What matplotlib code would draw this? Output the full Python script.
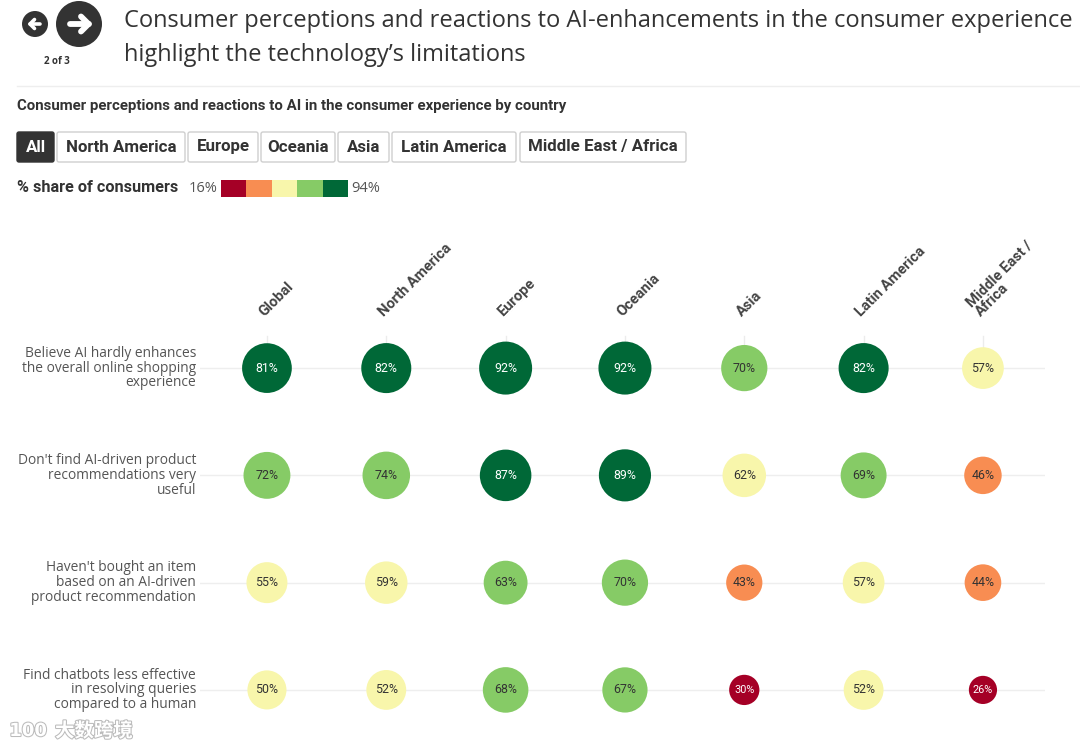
import matplotlib
matplotlib.use("Agg")
import matplotlib.pyplot as plt
from matplotlib.patches import Circle, FancyBboxPatch, Rectangle
import matplotlib.patheffects as pe
import numpy as np

# ---------------- data ----------------
regions = ["Global", "North America", "Europe", "Oceania", "Asia",
           "Latin America", "Middle East /\nAfrica"]
statements = [
    "Believe AI hardly enhances\nthe overall online shopping\nexperience",
    "Don't find AI-driven product\nrecommendations very\nuseful",
    "Haven't bought an item\nbased on an AI-driven\nproduct recommendation",
    "Find chatbots less effective\nin resolving queries\ncompared to a human",
]
global_vals = [81, 72, 55, 50]
north_america = [82, 74, 59, 52]
europe = [92, 87, 63, 68]
oceania = [92, 89, 70, 67]
asia = [70, 62, 43, 30]
latin_america = [82, 69, 57, 52]
mea = [57, 46, 44, 26]
values = [global_vals, north_america, europe, oceania, asia, latin_america, mea]

buttons = ["All", "North America", "Europe", "Oceania", "Asia",
           "Latin America", "Middle East / Africa"]
vmin, vmax = 16, 94
palette = ["#a50026", "#f88d52", "#f8f6ab", "#86cb66", "#006837"]

title = ("Consumer perceptions and reactions to AI-enhancements in the consumer experience\n"
         "highlight the technology\u2019s limitations")
subtitle = "Consumer perceptions and reactions to AI in the consumer experience by country"

W, H = 1080, 751
fig = plt.figure(figsize=(W / 100, H / 100), dpi=100)
fig.patch.set_facecolor("white")

def fx(x):
    return x / W

def fy(y):
    return 1 - y / H

renderer = fig.canvas.get_renderer()

def fit_text(x, y, s, target_w, size, **kw):
    t = fig.text(fx(x), fy(y), s, fontsize=size, **kw)
    w = t.get_window_extent(renderer).width
    t.set_fontsize(size * target_w / w)
    return t

# ---------------- header ----------------
fig.patches.append(Circle((35, H - 24), 13, transform=None, facecolor="#333333",
                          edgecolor="none"))
fig.patches.append(Circle((79, H - 24), 23, transform=None, facecolor="#333333",
                          edgecolor="none"))

def arrow(cx, cy, half, head, lw, direction):
    tip = cx + direction * half
    tail = cx - direction * half
    kw = dict(transform=None, color="white", lw=lw, solid_capstyle="round",
              solid_joinstyle="round")
    fig.lines.append(plt.Line2D([tail, tip], [H - cy, H - cy], **kw))
    fig.lines.append(plt.Line2D([tip - direction * head, tip, tip - direction * head],
                                [H - cy - head, H - cy, H - cy + head], **kw))

arrow(35, 24, 5, 4.5, 2.6, -1)
arrow(79, 24, 9.5, 7.5, 4.2, +1)

fig.text(fx(57), fy(62), "2 of 3", color="#333333", fontsize=7, fontweight="bold",
         ha="center", va="center", family="Open Sans")

tl = fig.text(fx(124), fy(21), title.split("\n")[0], fontsize=18, color="#333333",
              family="Open Sans", va="center", ha="left")
w = tl.get_window_extent(renderer).width
sz = 18 * 948 / w
tl.set_fontsize(sz)
fig.text(fx(124), fy(55), title.split("\n")[1], fontsize=sz, color="#333333",
         family="Open Sans", va="center", ha="left")

fig.lines.append(plt.Line2D([fx(17), 1], [fy(86), fy(86)], transform=fig.transFigure,
                            color="#eeeeee", lw=1))

fit_text(17, 106, subtitle, 553, 10, color="#333333", fontweight="bold",
         family="Roboto", va="center", ha="left")

# filter buttons
btn_x = [(17, 54), (57, 185), (188, 258), (261, 335), (338, 389), (392, 516), (520, 686)]
for i, (lab, (x0, x1)) in enumerate(zip(buttons, btn_x)):
    active = i == 0
    fig.patches.append(FancyBboxPatch((x0, H - 162), x1 - x0, 30, transform=None,
                                      boxstyle="round,pad=0,rounding_size=2",
                                      facecolor="#333333" if active else "white",
                                      edgecolor="#333333" if active else "#cfcfcf", lw=1))
    fig.text(fx((x0 + x1) / 2), fy(147), lab, fontsize=12.2, fontweight="bold",
             family="Roboto", color="white" if active else "#333333",
             ha="center", va="center")

# legend
fit_text(17, 188, "% share of consumers", 161, 11.5, fontweight="bold",
         family="Roboto", color="#333333", ha="left", va="center")
fig.text(fx(189), fy(188), f"{vmin}%", fontsize=10.5, family="Open Sans",
         color="#555555", ha="left", va="center")
fig.text(fx(351), fy(188), f"{vmax}%", fontsize=10.5, family="Open Sans",
         color="#555555", ha="left", va="center")
seg = (348 - 221) / len(palette)
for i, c in enumerate(palette):
    fig.patches.append(Rectangle((221 + i * seg, H - 197), seg, 17, transform=None,
                                 facecolor=c, edgecolor="none"))

# ---------------- main chart ----------------
ax_l, ax_r, ax_t, ax_b = 200, 1045, 330, 722
ax = fig.add_axes([fx(ax_l), fy(ax_b), (ax_r - ax_l) / W, (ax_b - ax_t) / H])
ax.set_xlim(-0.561, 6.52)
ax.set_ylim(3.299, -0.355)
ax.axis("off")

ncol = len(regions)
nrow = len(statements)
for r in range(nrow):
    ax.axhline(r, color="#eeeeee", lw=1, zorder=0)
for c in range(ncol):
    ax.plot([c, c], [-0.30, 0], color="#ececec", lw=1, zorder=0)

def color_for(v):
    b = int((v - vmin) / ((vmax - vmin) / len(palette)))
    return palette[min(max(b, 0), len(palette) - 1)]

xs, ys, ss, cs = [], [], [], []
for c in range(ncol):
    for r in range(nrow):
        v = values[c][r]
        d_px = 53 * np.sqrt(v / 92)
        xs.append(c); ys.append(r)
        ss.append((d_px * 0.72) ** 2)
        cs.append(color_for(v))
ax.scatter(xs, ys, s=ss, c=cs, edgecolors="none", zorder=2)
for c in range(ncol):
    for r in range(nrow):
        v = values[c][r]
        col = color_for(v)
        tc = "white" if col in (palette[0], palette[4]) else "#333333"
        fsz = 8.9 if v > 35 else 7.8
        ax.text(c, r, f"{v}%", ha="center", va="center", fontsize=fsz, color=tc,
                family="Roboto", zorder=3)

# row labels
for r, s in enumerate(statements):
    ax.text(-0.595, r, s, ha="right", va="center", fontsize=9.9, color="#555555",
            family="Open Sans", linespacing=0.98)

# column headers
for c, s in enumerate(regions):
    ax.text(c + 0.0, -0.46, s, rotation=45, rotation_mode="anchor", ha="left",
            va="bottom", fontsize=10.6, fontweight="bold", color="#444444",
            family="Roboto", linespacing=0.85, clip_on=False)

# watermark
fig.text(fx(55), fy(731), "大数跨境", fontsize=14, color="white",
         family=["Noto Sans CJK SC", "DejaVu Sans"], fontweight="bold", ha="left",
         va="center", path_effects=[pe.withStroke(linewidth=1.5, foreground="#bbbbbb")])
fig.text(fx(28), fy(731), "100", fontsize=13, color="white", fontweight="bold",
         ha="center", va="center", family="DejaVu Sans",
         path_effects=[pe.withStroke(linewidth=1.5, foreground="#bbbbbb")])

fig.savefig("out.png", dpi=100, facecolor="white")
